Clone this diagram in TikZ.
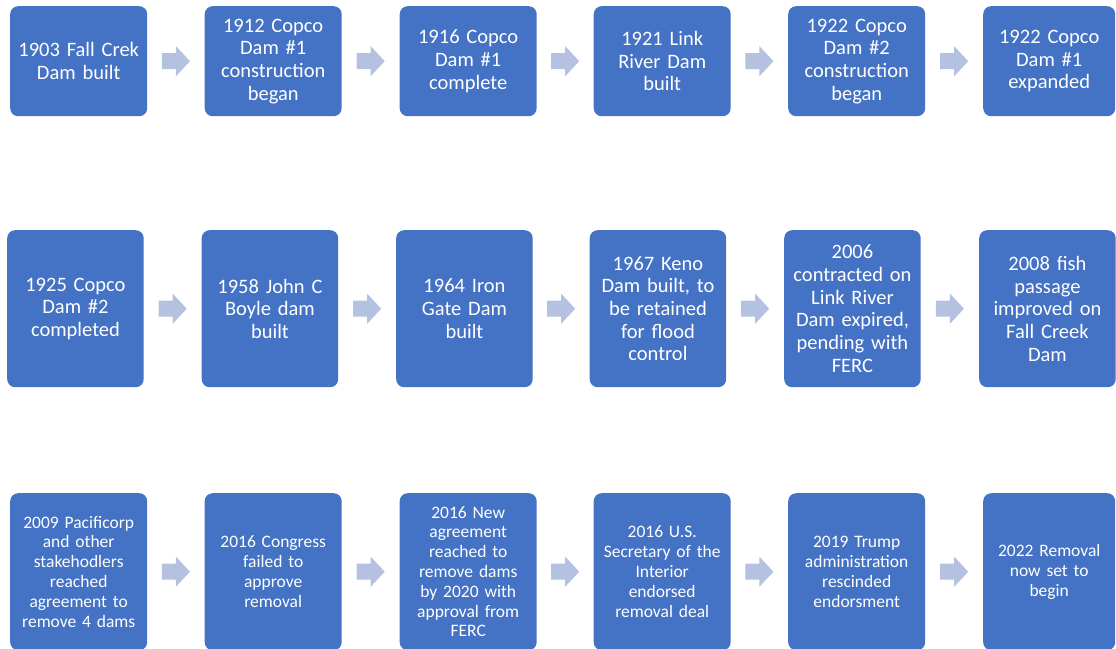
\documentclass[tikz,border=0pt]{standalone}
\usepackage{fontspec}
\setmainfont{Carlito}
\usetikzlibrary{calc}
\definecolor{boxblue}{HTML}{4472C4}
\definecolor{arrowfill}{HTML}{B4C1E1}
\newcommand\blockarr[2]{\fill[arrowfill] ($(#1.east)!0.5!(#2.west)$) ++(-14,-8) -- ++(14,0) -- ++(0,-7) -- ++(14,15) -- ++(-14,15) -- ++(0,-7) -- ++(-14,0) -- cycle;}
\begin{document}
\begin{tikzpicture}[x=1pt,y=-1pt,
  box/.style={rectangle, rounded corners=8pt, fill=boxblue, text=white, align=center,
    inner sep=0pt, anchor=north west, text width=126pt,
    font=\fontsize{20.5pt}{22.7pt}\selectfont},
  smallbox/.style={box, font=\fontsize{17.5pt}{19.8pt}\selectfont},
  r1/.style={box, minimum width=137pt, minimum height=110pt},
  r2/.style={box, minimum width=136.5pt, minimum height=157pt},
  r3/.style={smallbox, minimum width=137pt, minimum height=157pt}]
\useasboundingbox (0,0) rectangle (1116,648);
\fill[white] (0,0) rectangle (1116,648);
% Row 1
\node[r1] (a1) at (10,6) {1903 Fall Crek\\Dam built};
\node[r1] (a2) at (204.5,6) {1912 Copco\\Dam \#1\\construction\\began};
\node[r1] (a3) at (399.5,6) {1916 Copco\\Dam \#1\\complete};
\node[r1] (a4) at (593.5,6) {1921 Link\\River Dam\\built};
\node[r1] (a5) at (788,6) {1922 Copco\\Dam \#2\\construction\\began};
\node[r1, minimum width=132pt] (a6) at (983,6) {1922 Copco\\Dam \#1\\expanded};
% Row 2
\node[r2] (b1) at (7,230) {1925 Copco\\Dam \#2\\completed};
\node[r2] (b2) at (201.5,230) {1958 John C\\Boyle dam\\built};
\node[r2] (b3) at (396,230) {1964 Iron\\Gate Dam\\built};
\node[r2] (b4) at (589.5,230) {1967 Keno\\Dam built, to\\be retained\\for flood\\control};
\node[r2] (b5) at (784,230) {2006\\contracted on\\Link River\\Dam expired,\\pending with\\FERC};
\node[r2] (b6) at (979,230) {2008 fish\\passage\\improved on\\Fall Creek\\Dam};
% Row 3
\node[r3] (c1) at (10,493) {2009 Pacificorp\\and other\\stakehodlers\\reached\\agreement to\\remove 4 dams};
\node[r3] (c2) at (204.5,493) {2016 Congress\\failed to\\approve\\removal};
\node[r3] (c3) at (399.5,493) {2016 New\\agreement\\reached to\\remove dams\\by 2020 with\\approval from\\FERC};
\node[r3] (c4) at (593.5,493) {2016 U.S.\\Secretary of the\\Interior\\endorsed\\removal deal};
\node[r3] (c5) at (788,493) {2019 Trump\\administration\\rescinded\\endorsment};
\node[r3, minimum width=132pt] (c6) at (983,493) {2022 Removal\\now set to\\begin};
% Arrows
\blockarr{a1}{a2}\blockarr{a2}{a3}\blockarr{a3}{a4}\blockarr{a4}{a5}\blockarr{a5}{a6}
\blockarr{b1}{b2}\blockarr{b2}{b3}\blockarr{b3}{b4}\blockarr{b4}{b5}\blockarr{b5}{b6}
\blockarr{c1}{c2}\blockarr{c2}{c3}\blockarr{c3}{c4}\blockarr{c4}{c5}\blockarr{c5}{c6}
\end{tikzpicture}
\end{document}
